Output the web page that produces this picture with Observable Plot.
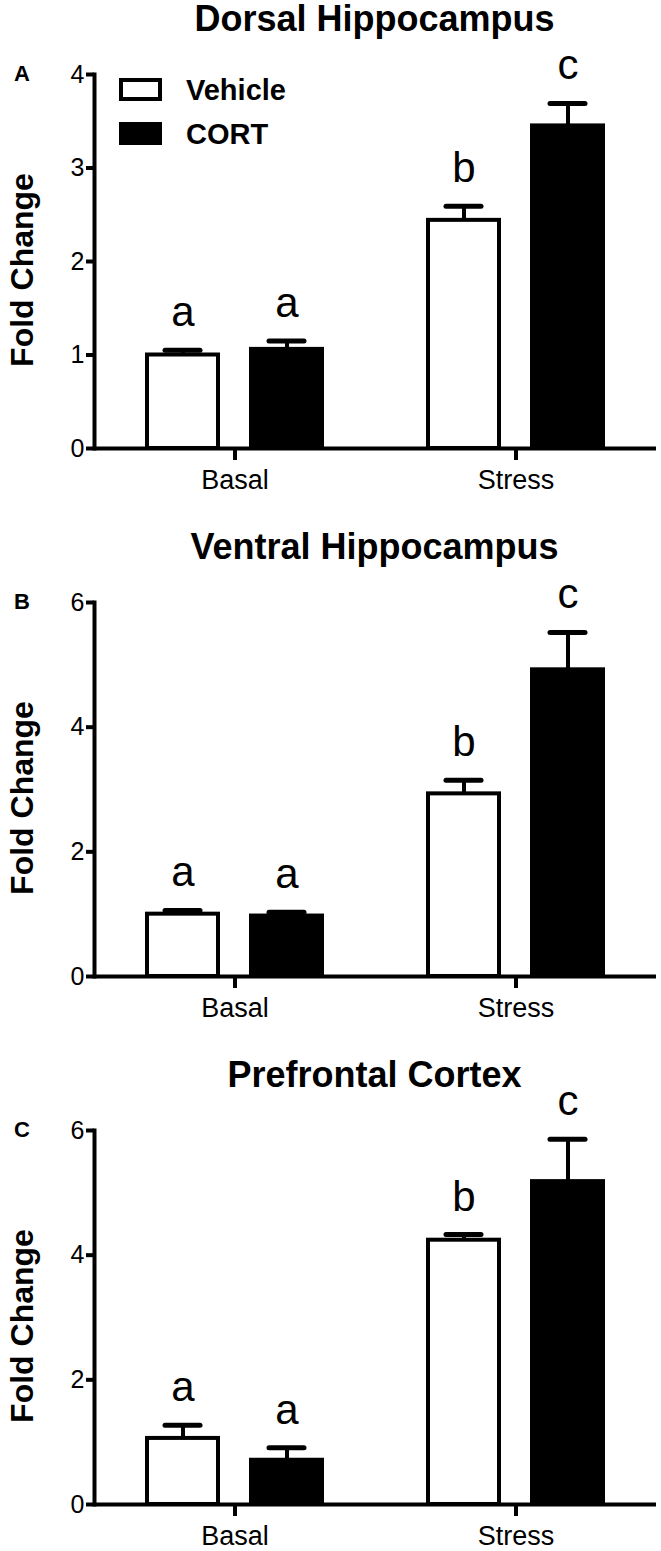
<!DOCTYPE html>
<html>
<head>
<meta charset="utf-8">
<script src="https://cdn.jsdelivr.net/npm/d3@7"></script>
<script src="https://cdn.jsdelivr.net/npm/@observablehq/plot@0.6"></script>
<style>
  html, body { margin: 0; padding: 0; background: #fff; }
  body { width: 661px; height: 1551px; position: relative; overflow: hidden;
         font-family: "Liberation Sans", Arial, sans-serif; color: #000; }
  .panel { position: absolute; left: 0; width: 661px; height: 528px; }
  .title { position: absolute; left: 93px; width: 563px; top: 1px; text-align: center;
           font-weight: bold; font-size: 36px; line-height: 36px; white-space: nowrap; }
  .letter { position: absolute; left: 14px; font-weight: bold; font-size: 22px; line-height: 22px; }
  .ylab { position: absolute; left: 22px; font-weight: bold; font-size: 32px; line-height: 32px;
          white-space: nowrap; transform: translate(-50%, -50%) rotate(-90deg); }
  .chart { position: absolute; left: 0; top: 40px; }
  .chart g[aria-label="y-axis tick label"] { font-size: 25px; }
  .chart g[aria-label="fx-axis tick label"] { font-size: 27px; }
  .legend-box { position: absolute; left: 119px; width: 35px; height: 15px; border: 4px solid #000; }
  .legend-text { position: absolute; left: 186px; font-weight: bold; font-size: 29px; line-height: 29px; }
</style>
</head>
<body>
<script>
// ---- data ----
const groups = ["Basal", "Stress"];
const treatments = ["Vehicle", "CORT"];
const panelTitles = ["Dorsal Hippocampus", "Ventral Hippocampus", "Prefrontal Cortex"];
const panelLetters = ["A", "B", "C"];
const yMaxes = [4, 6, 6];
const yTickValues = [[0, 1, 2, 3, 4], [0, 2, 4, 6], [0, 2, 4, 6]];
// order: Basal-Vehicle, Basal-CORT, Stress-Vehicle, Stress-CORT
const dorsalMean = [1.00, 1.06, 2.44, 3.45];
const dorsalSem = [0.05, 0.09, 0.15, 0.24];
const ventralMean = [1.00, 0.97, 2.93, 4.92];
const ventralSem = [0.06, 0.06, 0.22, 0.60];
const pfcMean = [1.06, 0.71, 4.24, 5.18];
const pfcSem = [0.21, 0.20, 0.09, 0.68];
const sigLetters = ["a", "a", "b", "c"];

const panelMeans = [dorsalMean, ventralMean, pfcMean];
const panelSems = [dorsalSem, ventralSem, pfcSem];
const panelTops = [0, 528, 1056];

panelTitles.forEach((title, p) => {
  const rows = panelMeans[p].map((m, i) => ({
    group: groups[Math.floor(i / 2)],
    treatment: treatments[i % 2],
    mean: m,
    top: m + panelSems[p][i],
    letter: sigLetters[i]
  }));

  const panel = document.createElement("div");
  panel.className = "panel";
  panel.style.top = panelTops[p] + "px";
  document.body.appendChild(panel);

  const t = document.createElement("div");
  t.className = "title";
  t.textContent = title;
  panel.appendChild(t);

  const chart = Plot.plot({
    width: 661,
    height: 468,
    marginLeft: 93,
    marginRight: 5,
    marginTop: 34,
    marginBottom: 60,
    style: { fontFamily: "'Liberation Sans', Arial, sans-serif", fontSize: "24px", color: "#000", background: "#fff", overflow: "visible" },
    fx: { domain: groups, padding: 0, label: null },
    x: { domain: treatments, paddingInner: 0.32, paddingOuter: 0.5, axis: null },
    y: { domain: [0, yMaxes[p]], axis: null },
    marks: [
      Plot.barY(rows, { fx: "group", x: "treatment", y: "mean",
        fill: d => d.treatment === "Vehicle" ? "#fff" : "#000", stroke: "#000", strokeWidth: 4 }),
      Plot.ruleX(rows, { fx: "group", x: "treatment", y1: "mean", y2: "top", stroke: "#000", strokeWidth: 4 }),
      Plot.tickY(rows, { fx: "group", x: "treatment", y: "top", stroke: "#000", strokeWidth: 5,
        insetLeft: 18, insetRight: 18, strokeLinecap: "round" }),
      Plot.text(rows, { fx: "group", x: "treatment", y: "top", text: "letter", dy: -24,
        lineAnchor: "bottom", fontSize: 42, fill: "#000" }),
      Plot.ruleY([0], { stroke: "#000", strokeWidth: 4 }),
      Plot.frame({ anchor: "left", facetAnchor: "left", stroke: "#000", strokeWidth: 4 }),
      Plot.axisY({ ticks: yTickValues[p], tickFormat: d3.format("d"), tickSize: 8, strokeWidth: 4,
        tickPadding: 2, fontSize: 25, label: null }),
      Plot.axisFx({ anchor: "bottom", tickSize: 12, strokeWidth: 4, tickPadding: 9, fontSize: 27, label: null })
    ]
  });
  chart.classList.add("chart");
  panel.appendChild(chart);

  const lt = document.createElement("div");
  lt.className = "letter";
  lt.style.top = "63px";
  lt.textContent = panelLetters[p];
  panel.appendChild(lt);

  const yl = document.createElement("div");
  yl.className = "ylab";
  yl.style.top = "270px";
  yl.textContent = "Fold Change";
  panel.appendChild(yl);

  if (p === 0) {
    treatments.forEach((tr, i) => {
      const box = document.createElement("div");
      box.className = "legend-box";
      box.style.top = (78 + i * 44) + "px";
      box.style.background = i === 0 ? "#fff" : "#000";
      panel.appendChild(box);
      const txt = document.createElement("div");
      txt.className = "legend-text";
      txt.style.top = (76 + i * 44) + "px";
      txt.textContent = tr;
      panel.appendChild(txt);
    });
  }
});
</script>
</body>
</html>
